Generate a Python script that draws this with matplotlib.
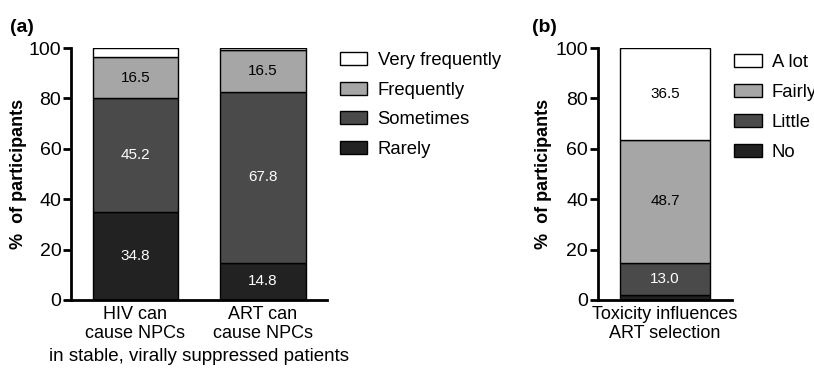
import matplotlib.pyplot as plt
from matplotlib.patches import Patch
import numpy as np

plt.rcParams['font.family'] = ['Liberation Sans', 'DejaVu Sans']

# panel (a)
cats_a = ['HIV can\ncause NPCs', 'ART can\ncause NPCs']
levels_a = ['Rarely', 'Sometimes', 'Frequently', 'Very frequently']
rarely = [34.8, 14.8]
sometimes = [45.2, 67.8]
frequently = [16.5, 16.5]
very_freq = [3.5, 0.9]

# panel (b)
cats_b = ['Toxicity influences\nART selection']
levels_b = ['No', 'Little', 'Fairly', 'A lot']
no = [1.8]
little = [13.0]
fairly = [48.7]
a_lot = [36.5]

colors = ['#222222', '#4a4a4a', '#a6a6a6', '#ffffff']
txt_col = ['white', 'white', 'black', 'black']

fig = plt.figure(figsize=(8.14, 3.71), dpi=100)
ax_a = fig.add_axes([0.0872, 0.1914, 0.3145, 0.6792])
ax_b = fig.add_axes([0.7346, 0.1914, 0.1646, 0.6792])


def stacked(ax, cats, series, labels_shown):
    x = np.arange(len(cats))
    bottom = np.zeros(len(cats))
    for i, vals in enumerate(series):
        vals = np.array(vals)
        ax.bar(x, vals, 0.667, bottom=bottom, color=colors[i],
               edgecolor='black', linewidth=1.0, zorder=2)
        if labels_shown[i]:
            for xi, b, v in zip(x, bottom, vals):
                ax.text(xi, b + v / 2, f'{v:.1f}', ha='center', va='center',
                        color=txt_col[i], fontsize=11)
        bottom = bottom + vals
    ax.set_xticks(x)
    ax.set_xticklabels(cats, fontsize=13, linespacing=1.2)
    ax.set_ylim(0, 100)
    ax.set_yticks([0, 20, 40, 60, 80, 100])
    ax.tick_params(axis='y', labelsize=14, width=2, length=6, pad=1)
    ax.tick_params(axis='x', length=0, pad=4)
    for s in ['top', 'right']:
        ax.spines[s].set_visible(False)
    for s in ['left', 'bottom']:
        ax.spines[s].set_linewidth(2)
    ax.set_ylabel('%  of participants', fontsize=13, fontweight='bold')


stacked(ax_a, cats_a, [rarely, sometimes, frequently, very_freq], [True, True, True, False])
ax_a.set_xlim(-0.506, 1.502)
ax_a.set_xlabel('in stable, virally suppressed patients', fontsize=13.5, labelpad=4)
ax_a.yaxis.set_label_coords(-0.17, 0.5)

stacked(ax_b, cats_b, [no, little, fairly, a_lot], [False, True, True, True])
ax_b.set_xlim(-0.496, 0.496)
ax_b.yaxis.set_label_coords(-0.343, 0.5)

leg_kw = dict(loc='upper left', frameon=False, fontsize=13.3, handlelength=1.5,
              handleheight=0.7, handletextpad=0.55, labelspacing=0.69,
              borderaxespad=0, borderpad=0)
h_a = [Patch(facecolor=colors[i], edgecolor='black', label=levels_a[i]) for i in range(3, -1, -1)]
ax_a.legend(handles=h_a, bbox_to_anchor=(1.05, 0.985), **leg_kw)
h_b = [Patch(facecolor=colors[i], edgecolor='black', label=levels_b[i]) for i in range(3, -1, -1)]
ax_b.legend(handles=h_b, bbox_to_anchor=(1.015, 0.975), **leg_kw)

fig.text(0.012, 0.925, '(a)', fontsize=14, fontweight='bold', va='center')
fig.text(0.653, 0.925, '(b)', fontsize=14, fontweight='bold', va='center')

fig.savefig('out.png', dpi=100)
